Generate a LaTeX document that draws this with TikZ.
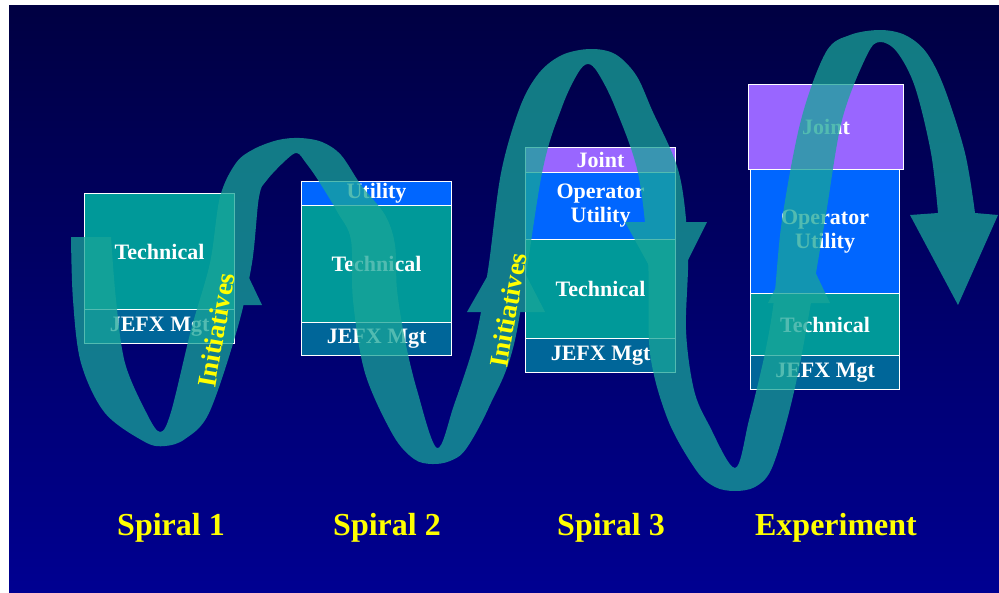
\documentclass[tikz,border=0pt]{standalone}
\usepackage{fontspec}
\setmainfont{Liberation Serif}
\definecolor{bgtop}{RGB}{0,0,66}
\definecolor{bgbot}{RGB}{0,0,145}
\definecolor{joint}{HTML}{9966FF}
\definecolor{oputil}{HTML}{0066FF}
\definecolor{tech}{HTML}{009999}
\definecolor{jefx}{HTML}{006699}
\definecolor{ribboncol}{RGB}{25,165,152}
\definecolor{lblyellow}{HTML}{FFFF00}
\tikzset{
  band/.style={draw=white, line width=1.1pt, inner sep=0pt, anchor=north west,
    text=white, font=\fontsize{22}{24}\selectfont\bfseries, align=center},
  lbl/.style={text=lblyellow, font=\fontsize{32}{36}\selectfont\bfseries, anchor=base},
  initlbl/.style={text=lblyellow, font=\fontsize{27}{30}\selectfont\bfseries, rotate=80, inner sep=0pt},
  ribbonfill/.style={fill=ribboncol}
}
\begin{document}
\begin{tikzpicture}[x=1pt,y=-1pt]
\useasboundingbox (0,0) rectangle (999,592);
\fill[white] (0,0) rectangle (999,592);
\shade[top color=bgtop, bottom color=bgbot] (9,5) rectangle (999,592);

% Spiral 1 box
\node[band, fill=tech, minimum width=150pt, minimum height=116pt] (t1) at (84,193) {Technical};
\node[band, fill=jefx, minimum width=150pt, minimum height=34pt] (j1) at (84,309) {JEFX Mgt};
% Spiral 2 box
\node[band, fill=oputil, minimum width=150pt, minimum height=24pt] (u2) at (301,181) {Utility};
\node[band, fill=tech, minimum width=150pt, minimum height=117pt] (t2) at (301,205) {Technical};
\node[band, fill=jefx, minimum width=150pt, minimum height=33pt] (j2) at (301,322) {JEFX Mgt};
% Spiral 3 box
\node[band, fill=joint, minimum width=150pt, minimum height=25pt] (jo3) at (525,147) {Joint};
\node[band, fill=oputil, minimum width=150pt, minimum height=67pt] (u3) at (525,172) {Operator\\Utility};
\node[band, fill=tech, minimum width=150pt, minimum height=99pt] (t3) at (525,239) {Technical};
\node[band, fill=jefx, minimum width=150pt, minimum height=34pt] (j3) at (525,338) {JEFX Mgt};
% Experiment box
\node[band, fill=joint, minimum width=155pt, minimum height=85pt] (jo4) at (748,84) {Joint};
\node[band, fill=oputil, minimum width=149pt, minimum height=124pt] (u4) at (750,169) {Operator\\Utility};
\node[band, fill=tech, minimum width=149pt, minimum height=62pt] (t4) at (750,293) {Technical};
\node[band, fill=jefx, minimum width=149pt, minimum height=34pt] (j4) at (750,355) {JEFX Mgt};

% Ribbon spiral
\begin{scope}[transparency group, opacity=0.75]
\fill[ribbonfill] plot[smooth, tension=0.55] coordinates {
 (111,237) (116,300) (125,363) (146,412) (160,432) (171,412) (191,330) (210,263)
 (220,197) (236,163) (254,149) (278,140) (300,138) (322,142) (341,155) (361,185)
 (385,215) (395,245) (397,290) (405,340) (417,390) (437,448) (454,405) (475,340)
 (488,270) (501,173) (520,107) (539,73) (562,55) (590,49) (615,54) (636,75)
 (652,110) (679,173) (688,250) (686,330) (694,390) (709,425) (735,468) (749,420)
 (765,353) (774,300) (782,220) (801,120) (826,52) (850,35) (880,30) (905,35)
 (926,52) (944,87) (965,153) (975,213)}
 -- (998,215) -- (958,305) -- (910,215) --
 plot[smooth, tension=0.55] coordinates {
 (938,213) (931,153) (915,87) (897,52) (880,42) (867,55) (842,120) (825,220)
 (802,353) (787,420) (771,470) (755,487) (735,491) (715,487) (696,470) (668,420)
 (650,353) (648,260) (638,173) (615,107) (598,73) (588,64) (578,73) (562,107)
 (542,173) (515,340) (489,407) (466,449) (450,461) (432,464) (414,459) (393,435)
 (365,373) (353,300) (351,240) (338,213) (318,180) (306,163) (297,153) (286,160)
 (267,180) (259,197) (252,263) (237,330) (209,413) (185,439) (165,446) (145,442)
 (105,413) (81,363) (73,300) (71,237)} -- cycle;
% intermediate arrowheads
\fill[ribbonfill] (200,305) -- (262,305) -- (230,238) -- cycle;
\fill[ribbonfill] (467,312) -- (545,312) -- (508,240) -- cycle;
\fill[ribbonfill] (625,222) -- (707,222) -- (668,300) -- cycle;
\fill[ribbonfill] (768,303) -- (830,303) -- (800,240) -- cycle;
\end{scope}

% Initiatives labels
\node[initlbl] (in1) at (216,330) {Initiatives};
\node[initlbl] (in2) at (508,310) {Initiatives};

% Spiral labels
\node[lbl] (s1) at (171,535) {Spiral 1};
\node[lbl] (s2) at (387,535) {Spiral 2};
\node[lbl] (s3) at (611,535) {Spiral 3};
\node[lbl] (s4) at (836,535) {Experiment};
\end{tikzpicture}
\end{document}
